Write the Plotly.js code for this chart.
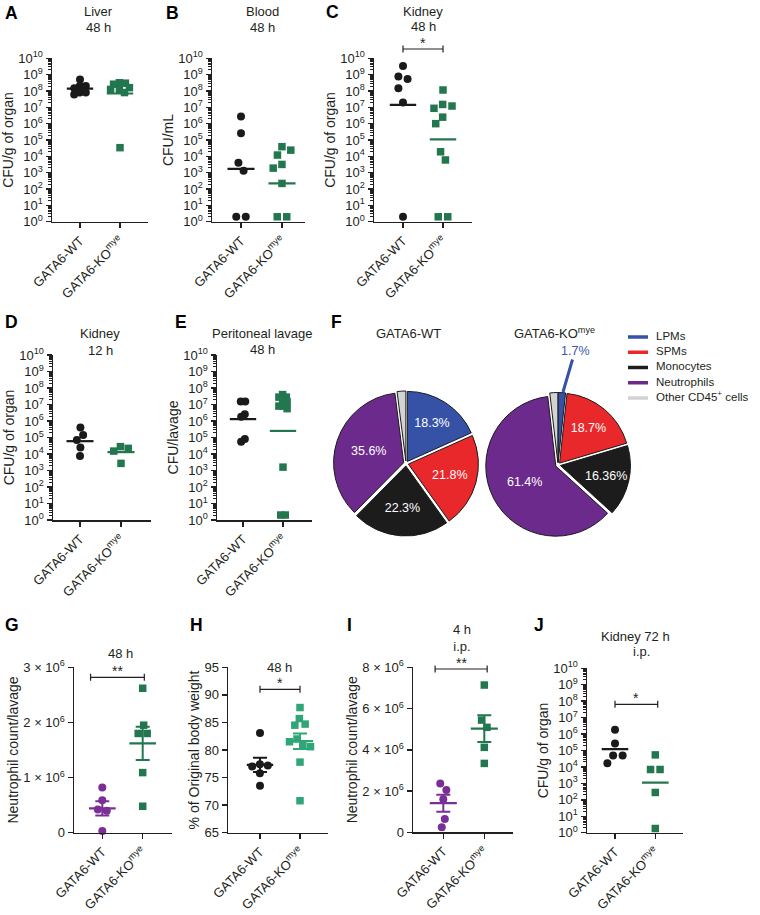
<!DOCTYPE html>
<html><head><meta charset="utf-8">
<script src="https://cdn.plot.ly/plotly-3.0.1.min.js"></script>
<style>body{margin:0;background:#fff}#chart{width:760px;height:915px}</style>
</head><body><div id="chart"></div>
<script>
// ---------------- DATA ----------------
const categories = ['GATA6-WT', 'GATA6-KO<sup>mye</sup>'];
const logTickVals = [1, 10, 100, 1e3, 1e4, 1e5, 1e6, 1e7, 1e8, 1e9, 1e10];
const logTickText = ['10<sup>0</sup>', '10<sup>1</sup>', '10<sup>2</sup>', '10<sup>3</sup>', '10<sup>4</sup>', '10<sup>5</sup>', '10<sup>6</sup>', '10<sup>7</sup>', '10<sup>8</sup>', '10<sup>9</sup>', '10<sup>10</sup>'];
const gTickVals = [0, 1e6, 2e6, 3e6];
const gTickText = ['0', '1 × 10<sup>6</sup>', '2 × 10<sup>6</sup>', '3 × 10<sup>6</sup>'];
const hTickVals = [65, 70, 75, 80, 85, 90, 95];
const hTickText = ['65', '70', '75', '80', '85', '90', '95'];
const iTickVals = [0, 2e6, 4e6, 6e6, 8e6];
const iTickText = ['0', '2 × 10<sup>6</sup>', '4 × 10<sup>6</sup>', '6 × 10<sup>6</sup>', '8 × 10<sup>6</sup>'];

// A Liver 48 h (CFU/g)
const aWT = [5e8, 2e8, 2e8, 1.45e8, 8e7, 8e7, 6e7];
const aKO = [3.2e8, 3e8, 2.6e8, 1.6e8, 1.25e8, 1.25e8, 8e7, 3.4e4];
const aLine = [1.4e8, 7e7];
// B Blood 48 h (CFU/mL)
const bWT = [2.7e6, 2.6e5, 4e3, 1.3e3, 2, 2];
const bKO = [3.9e4, 2.4e4, 1.2e4, 3.2e3, 1.9e3, 2.2e2, 2, 2];
const bLine = [1.7e3, 2.2e2];
// C Kidney 48 h
const cWT = [3.4e9, 7.6e8, 5.4e8, 1.45e8, 2e7, 2];
const cKO = [1.15e8, 1.5e7, 1.2e7, 8.7e6, 2.5e6, 1e6, 1.9e4, 6e3, 2, 2];
const cLine = [1.4e7, 1.1e5];
// D Kidney 12 h
const dWT = [4e5, 1.4e5, 7e4, 2.5e4, 7.5e3];
const dKO = [2.8e4, 2.2e4, 1.5e4, 2.7e3];
const dLine = [6e4, 1.3e4];
// E Peritoneal lavage 48 h
const eWT = [1.5e7, 1.5e7, 2.6e6, 1.8e6, 8e4, 5.6e4];
const eKO = [4e7, 2.8e7, 2.8e7, 1.5e7, 1.5e7, 8e6, 8e6, 5.6e6, 1.6e3, 2, 2];
const eLine = [1.3e6, 2.5e5];
// F pies
const pieLabels = ['LPMs', 'SPMs', 'Monocytes', 'Neutrophils', 'Other CD45<sup>+</sup> cells'];
const pieWT = [18.3, 21.8, 22.3, 35.6, 2.0];
const pieWTText = ['18.3%', '21.8%', '22.3%', '35.6%', ''];
const pieKO = [1.7, 18.7, 16.36, 61.4, 1.84];
const pieKOText = ['', '18.7%', '16.36%', '61.4%', ''];
const pieKOOutsideLabel = '1.7%';
// G neutrophils 48 h
const gWT = [0.82e6, 0.59e6, 0.42e6, 0.40e6, 0.03e6];
const gKO = [2.62e6, 1.95e6, 1.80e6, 1.80e6, 1.09e6, 0.48e6];
const gMean = [0.44e6, 1.62e6];
const gSem = [0.13e6, 0.30e6];
// H body weight 48 h
const hWT = [83.1, 77.4, 77.2, 77.0, 75.8, 73.5];
const hKO = [87.7, 85.7, 84.7, 84.5, 82.0, 81.5, 81.0, 80.6, 77.8, 70.8];
const hMean = [77.3, 81.6];
const hSem = [1.3, 1.4];
// I neutrophils 4 h i.p.
const iWT = [2.37e6, 2.05e6, 1.6e6, 0.65e6, 0.24e6];
const iKO = [7.14e6, 5.44e6, 5.09e6, 4.12e6, 3.34e6];
const iMean = [1.41e6, 5.03e6];
const iSem = [0.41e6, 0.65e6];
// J Kidney 72 h i.p.
const jWT = [1.8e6, 2.7e5, 4.9e4, 4.9e4, 1.7e4];
const jKO = [5.4e4, 7e3, 7e3, 2.8e2, 1.8];
const jLine = [1.2e5, 1.1e3];

// ---------------- STYLE / LAYOUT CONFIG ----------------
const W = 760, H = 915;
const INK = '#231f20';
const BLACK = '#1a1a1a';
const GREEN = '#23774f';
const GREEN_LIGHT = '#2fa676';
const PURPLE = '#7a2f96';
const pieColors = ['#3552a6', '#e8282b', '#1c1c1c', '#6c2a8c', '#d3d3d3'];
const FONT = 'Liberation Sans, Arial, Helvetica, sans-serif';
const px = x => x / W;
const py = y => 1 - y / H;

const panels = [
  {n: 1, x: [52, 148], y: [58.3, 221.7], cat: [80, 120], log: true, wt: aWT, ko: aKO, line: aLine, title: 'CFU/g of organ', wtCol: BLACK, koCol: GREEN, sw: 6},
  {n: 2, x: [212, 305], y: [58.3, 221.7], cat: [241, 282], log: true, wt: bWT, ko: bKO, line: bLine, title: 'CFU/mL', wtCol: BLACK, koCol: GREEN, sw: 9.5},
  {n: 3, x: [374, 472], y: [58.3, 221.7], cat: [403, 443], log: true, wt: cWT, ko: cKO, line: cLine, title: 'CFU/g of organ', wtCol: BLACK, koCol: GREEN, sw: 9.5},
  {n: 4, x: [53, 151], y: [355, 520], cat: [80, 121], log: true, wt: dWT, ko: dKO, line: dLine, title: 'CFU/g of organ', wtCol: BLACK, koCol: GREEN, sw: 8},
  {n: 5, x: [217, 312], y: [355, 520], cat: [243, 283], log: true, wt: eWT, ko: eKO, line: eLine, title: 'CFU/lavage', wtCol: BLACK, koCol: GREEN, sw: 4.5},
  {n: 6, x: [74, 172], y: [667.3, 832.7], cat: [102.3, 142.7], log: false, range: [0, 3e6], tv: gTickVals, tt: gTickText, wt: gWT, ko: gKO, line: gMean, sem: gSem, title: 'Neutrophil count/lavage', wtCol: PURPLE, koCol: GREEN, sw: 9},
  {n: 7, x: [228, 328], y: [667.3, 832.7], cat: [260, 300], log: false, range: [65, 95], tv: hTickVals, tt: hTickText, wt: hWT, ko: hKO, line: hMean, sem: hSem, title: '% of Original body weight', wtCol: BLACK, koCol: GREEN_LIGHT, sw: 8},
  {n: 8, x: [413, 513], y: [667.3, 832.3], cat: [443.3, 484.3], log: false, range: [0, 8e6], tv: iTickVals, tt: iTickText, wt: iWT, ko: iKO, line: iMean, sem: iSem, title: 'Neutrophil count/lavage', wtCol: PURPLE, koCol: GREEN, sw: 9},
  {n: 9, x: [587, 683], y: [668.3, 832.7], cat: [615, 655.3], log: true, wt: jWT, ko: jKO, line: jLine, title: 'CFU/g of organ', wtCol: BLACK, koCol: GREEN, sw: 9.5}
];

function swarmOffsets(yp, d) {
  const xs = [];
  for (let i = 0; i < yp.length; i++) {
    const iv = [], cands = [0];
    for (let j = 0; j < i; j++) {
      const dy = Math.abs(yp[j] - yp[i]);
      if (dy < d) {
        const dx = Math.sqrt(d * d - dy * dy);
        iv.push([xs[j] - dx, xs[j] + dx]);
        cands.push(xs[j] - dx, xs[j] + dx);
      }
    }
    const ok = c => iv.every(v => c <= v[0] + 1e-6 || c >= v[1] - 1e-6);
    const sum = xs.reduce((a, b) => a + b, 0);
    cands.sort((a, b) => Math.abs(a) - Math.abs(b) || (sum > 0 ? a - b : b - a));
    xs.push(cands.find(ok));
  }
  const n = yp.length, comp = new Array(n).fill(-1);
  let c = 0;
  for (let i = 0; i < n; i++) {
    if (comp[i] >= 0) continue;
    const st = [i]; comp[i] = c;
    while (st.length) {
      const k = st.pop();
      for (let j = 0; j < n; j++) if (comp[j] < 0 && Math.abs(yp[j] - yp[k]) < d) { comp[j] = c; st.push(j); }
    }
    c++;
  }
  for (let k = 0; k < c; k++) {
    const idx = [...Array(n).keys()].filter(i => comp[i] === k);
    const vals = idx.map(i => xs[i]);
    const sh = (Math.min(...vals) + Math.max(...vals)) / 2;
    idx.forEach(i => { xs[i] -= sh; });
  }
  return xs;
}

const minorLog = [];
for (let e = 0; e < 10; e++) for (let m = 2; m <= 9; m++) minorLog.push(m * Math.pow(10, e));

const traces = [];
const layout = {
  width: W, height: H, margin: {l: 0, r: 0, t: 0, b: 0},
  paper_bgcolor: '#fff', plot_bgcolor: 'rgba(0,0,0,0)',
  showlegend: false, font: {family: FONT, color: INK, size: 13},
  annotations: [], shapes: []
};

panels.forEach(p => {
  const sfx = p.n === 1 ? '' : String(p.n);
  const xa = 'x' + sfx, ya = 'y' + sfx;
  const s = p.cat[1] - p.cat[0];
  const xr = [(p.x[0] - p.cat[0]) / s, (p.x[1] - p.cat[0]) / s];
  const yr = p.log ? [0, 10] : p.range;
  const hgt = p.y[1] - p.y[0];
  const toPx = v => ((p.log ? Math.log10(v) : v) - yr[0]) / (yr[1] - yr[0]) * hgt;

  layout['xaxis' + sfx] = {
    domain: [px(p.x[0]), px(p.x[1])], range: xr, anchor: ya, fixedrange: true,
    tickvals: [0, 1], ticktext: categories, tickangle: -45, ticks: 'outside', ticklen: 5, tickwidth: 1.5,
    tickcolor: INK, showline: true, linecolor: INK, linewidth: 1.5, showgrid: false, zeroline: false,
    tickfont: {size: 13, color: INK, family: FONT}
  };
  const yaxis = {
    domain: [py(p.y[1]), py(p.y[0])], range: yr, anchor: xa, fixedrange: true,
    ticks: 'outside', ticklen: 5, tickwidth: 1.5, tickcolor: INK, showline: true, linecolor: INK, linewidth: 1.5,
    showgrid: false, zeroline: false, tickfont: {size: 13, color: INK, family: FONT},
    title: {text: p.title, font: {size: 14, color: INK, family: FONT}, standoff: 1}
  };
  if (p.log) {
    Object.assign(yaxis, {type: 'log', tickvals: logTickVals, ticktext: logTickText,
      minor: {tickvals: minorLog, ticks: 'outside', ticklen: 3, tickwidth: 1, tickcolor: INK, showgrid: false}});
  } else {
    Object.assign(yaxis, {tickvals: p.tv, ticktext: p.tt});
  }
  layout['yaxis' + sfx] = yaxis;

  [[p.wt, 0, 'circle', p.wtCol, 8], [p.ko, 1, 'square', p.koCol, 7.5]].forEach(([vals, ci, sym, col, sz]) => {
    const off = swarmOffsets(vals.map(toPx), p.sw);
    traces.push({type: 'scatter', mode: 'markers', xaxis: xa, yaxis: ya, cliponaxis: false, hoverinfo: 'skip',
      x: vals.map((v, i) => ci + off[i] / s), y: vals,
      marker: {symbol: sym, color: col, size: sz, line: {width: 0}}});
  });
  [[0, p.wtCol], [1, p.koCol]].forEach(([ci, col]) => {
    const hw = 0.33;
    traces.push({type: 'scatter', mode: 'lines', xaxis: xa, yaxis: ya, cliponaxis: false, hoverinfo: 'skip',
      x: [ci - hw, ci + hw], y: [p.line[ci], p.line[ci]], line: {color: col, width: 2.2}});
    if (p.sem) {
      traces.push({type: 'scatter', mode: 'markers', xaxis: xa, yaxis: ya, cliponaxis: false, hoverinfo: 'skip',
        x: [ci], y: [p.line[ci]], marker: {size: 1, opacity: 0},
        error_y: {type: 'data', array: [p.sem[ci]], visible: true, color: col, thickness: 2, width: 7}});
    }
  });
});

// F pies
const pieCommon = {type: 'pie', sort: false, direction: 'clockwise', rotation: 0, pull: 0.035,
  textinfo: 'text', textposition: 'inside', insidetextorientation: 'horizontal', hoverinfo: 'skip',
  textfont: {color: '#ffffff', size: 12.5, family: FONT},
  marker: {colors: pieColors, line: {color: '#1a1a1a', width: 1}}};
traces.push(Object.assign({}, pieCommon, {labels: pieLabels, values: pieWT, text: pieWTText,
  domain: {x: [px(406 - 72.5), px(406 + 72.5)], y: [py(463.5 + 72.5), py(463.5 - 72.5)]}}));
traces.push(Object.assign({}, pieCommon, {labels: pieLabels, values: pieKO, text: pieKOText,
  domain: {x: [px(558 - 72.5), px(558 + 72.5)], y: [py(465 + 72.5), py(465 - 72.5)]}}));

// F legend (hidden axes)
layout.xaxis10 = {domain: [px(620), px(760)], range: [0, 140], visible: false, fixedrange: true, anchor: 'y10'};
layout.yaxis10 = {domain: [py(405), py(330)], range: [4.459, -0.459], visible: false, fixedrange: true, anchor: 'x10'};
pieLabels.forEach((lab, i) => {
  traces.push({type: 'scatter', mode: 'lines', xaxis: 'x10', yaxis: 'y10', hoverinfo: 'skip', cliponaxis: false,
    x: [8, 28], y: [i, i], line: {color: pieColors[i], width: 3.5}});
});
traces.push({type: 'scatter', mode: 'text', xaxis: 'x10', yaxis: 'y10', hoverinfo: 'skip', cliponaxis: false,
  x: pieLabels.map(() => 36), y: pieLabels.map((l, i) => i), text: pieLabels, textposition: 'middle right',
  textfont: {size: 11.5, color: INK, family: FONT}});

// annotations: titles & panel letters
function ann(text, x, y, opts) {
  layout.annotations.push(Object.assign({text, x: px(x), y: py(y), xref: 'paper', yref: 'paper',
    showarrow: false, xanchor: 'center', yanchor: 'middle', font: {size: 13, color: INK, family: FONT}}, opts || {}));
}
[['Liver', 99, 12], ['48 h', 99, 28], ['Blood', 262, 12], ['48 h', 262, 28], ['Kidney', 423, 12], ['48 h', 423, 27],
 ['Kidney', 100, 333], ['12 h', 100, 350], ['Peritoneal lavage', 262, 333], ['48 h', 262, 349],
 ['GATA6-WT', 409, 333], ['GATA6-KO<sup>mye</sup>', 554, 333],
 ['48 h', 120, 653], ['48 h', 279, 667], ['4 h<br>i.p.', 462, 637.5], ['Kidney 72 h', 635, 636], ['i.p.', 641, 651]
].forEach(t => ann(t[0], t[1], t[2]));
[['A', 11, 13], ['B', 172, 13], ['C', 332, 12], ['D', 11, 322], ['E', 181, 322], ['F', 336, 322],
 ['G', 12, 625], ['H', 197, 625], ['I', 349, 625], ['J', 539, 625]
].forEach(t => ann('<b>' + t[0] + '</b>', t[1], t[2], {font: {size: 17.5, color: '#000', family: FONT}}));

// KO 1.7% outside label with leader
layout.annotations.push({text: pieKOOutsideLabel, x: px(563), y: py(392), xref: 'paper', yref: 'paper',
  showarrow: true, arrowhead: 0, arrowwidth: 3, arrowcolor: '#3552a6', ax: 12, ay: -41, standoff: 0,
  font: {size: 12.5, color: '#3a57a5', family: FONT}});

// significance brackets
function bracket(n, x0, x1, yPx, stars) {
  const sfx = n === 1 ? '' : String(n);
  const t = 3.5;
  layout.shapes.push({type: 'path', xref: 'x' + sfx, yref: 'paper',
    path: `M${x0},${py(yPx - t)} L${x0},${py(yPx + t)} M${x0},${py(yPx)} L${x1},${py(yPx)} M${x1},${py(yPx - t)} L${x1},${py(yPx + t)}`,
    line: {color: INK, width: 1.2}});
  layout.annotations.push({text: stars, x: (x0 + x1) / 2, y: py(yPx - 6), xref: 'x' + sfx, yref: 'paper',
    showarrow: false, xanchor: 'center', yanchor: 'middle', font: {size: 14, color: INK, family: FONT}});
}
bracket(3, 0, 1, 49, '*');
bracket(6, -0.29, 1.04, 677.3, '**');
bracket(7, 0, 1, 689.3, '*');
bracket(8, -0.2, 1.07, 669, '**');
bracket(9, 0, 1.06, 704.3, '*');

Plotly.newPlot('chart', traces, layout, {staticPlot: true});
</script></body></html>
